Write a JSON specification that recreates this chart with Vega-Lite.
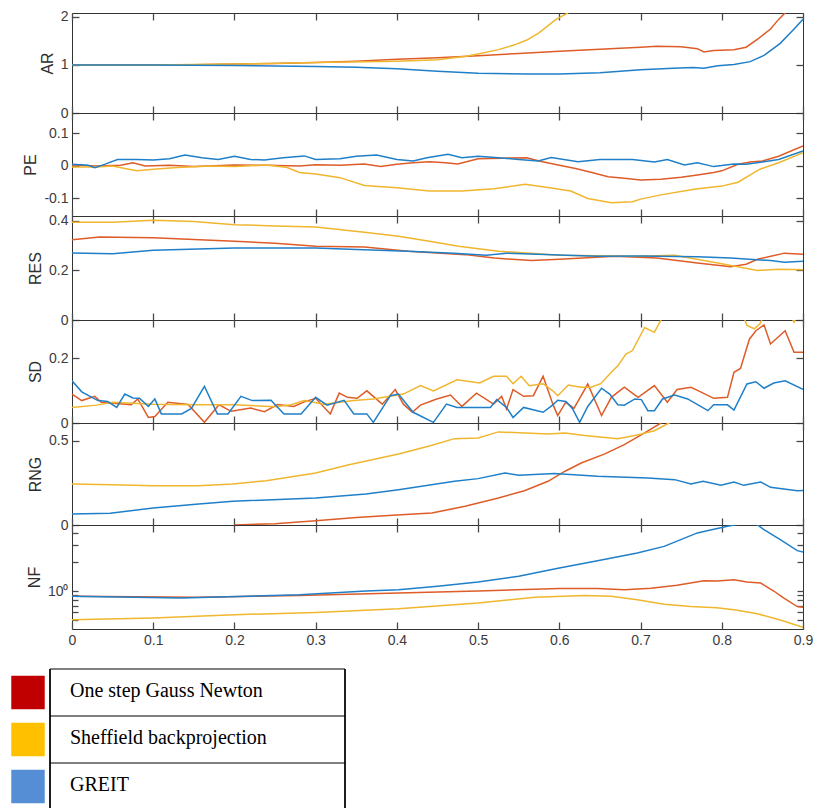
{
"$schema": "https://vega.github.io/schema/vega-lite/v6.json",
"padding": {"left": 11, "top": 9, "right": 0, "bottom": 0},
"spacing": 20,
"resolve": {"scale": {"color": "independent"}},
"datasets": {
"leg": [{"name": "One step Gauss Newton"}, {"name": "Sheffield backprojection"}, {"name": "GREIT"}],
"main": [
{"p":"AR","s":"GN","x":0,"v":1},{"p":"AR","s":"GN","x":0.1,"v":1},{"p":"AR","s":"GN","x":0.15,"v":1.005},{"p":"AR","s":"GN","x":0.2,"v":1.02},{"p":"AR","s":"GN","x":0.25,"v":1.03},{"p":"AR","s":"GN","x":0.3,"v":1.05},{"p":"AR","s":"GN","x":0.35,"v":1.08},{"p":"AR","s":"GN","x":0.4,"v":1.12},{"p":"AR","s":"GN","x":0.45,"v":1.15},{"p":"AR","s":"GN","x":0.5,"v":1.19},{"p":"AR","s":"GN","x":0.55,"v":1.24},{"p":"AR","s":"GN","x":0.6,"v":1.285},{"p":"AR","s":"GN","x":0.65,"v":1.33},{"p":"AR","s":"GN","x":0.7,"v":1.37},{"p":"AR","s":"GN","x":0.72,"v":1.39},{"p":"AR","s":"GN","x":0.75,"v":1.38},{"p":"AR","s":"GN","x":0.77,"v":1.34},{"p":"AR","s":"GN","x":0.778,"v":1.27},{"p":"AR","s":"GN","x":0.79,"v":1.3},{"p":"AR","s":"GN","x":0.815,"v":1.32},{"p":"AR","s":"GN","x":0.83,"v":1.37},{"p":"AR","s":"GN","x":0.845,"v":1.55},{"p":"AR","s":"GN","x":0.86,"v":1.75},{"p":"AR","s":"GN","x":0.87,"v":1.95},{"p":"AR","s":"GN","x":0.88,"v":2.12},{"p":"AR","s":"GN","x":0.89,"v":2.3},
{"p":"AR","s":"SBP","x":0,"v":1},{"p":"AR","s":"SBP","x":0.1,"v":1},{"p":"AR","s":"SBP","x":0.2,"v":1.02},{"p":"AR","s":"SBP","x":0.3,"v":1.05},{"p":"AR","s":"SBP","x":0.4,"v":1.08},{"p":"AR","s":"SBP","x":0.45,"v":1.11},{"p":"AR","s":"SBP","x":0.485,"v":1.18},{"p":"AR","s":"SBP","x":0.5,"v":1.23},{"p":"AR","s":"SBP","x":0.525,"v":1.32},{"p":"AR","s":"SBP","x":0.545,"v":1.42},{"p":"AR","s":"SBP","x":0.56,"v":1.52},{"p":"AR","s":"SBP","x":0.575,"v":1.67},{"p":"AR","s":"SBP","x":0.595,"v":1.94},{"p":"AR","s":"SBP","x":0.61,"v":2.08},{"p":"AR","s":"SBP","x":0.62,"v":2.25},
{"p":"AR","s":"GREIT","x":0,"v":1},{"p":"AR","s":"GREIT","x":0.1,"v":1},{"p":"AR","s":"GREIT","x":0.2,"v":0.99},{"p":"AR","s":"GREIT","x":0.3,"v":0.97},{"p":"AR","s":"GREIT","x":0.35,"v":0.955},{"p":"AR","s":"GREIT","x":0.4,"v":0.92},{"p":"AR","s":"GREIT","x":0.45,"v":0.87},{"p":"AR","s":"GREIT","x":0.5,"v":0.83},{"p":"AR","s":"GREIT","x":0.56,"v":0.81},{"p":"AR","s":"GREIT","x":0.6,"v":0.81},{"p":"AR","s":"GREIT","x":0.65,"v":0.84},{"p":"AR","s":"GREIT","x":0.7,"v":0.9},{"p":"AR","s":"GREIT","x":0.74,"v":0.93},{"p":"AR","s":"GREIT","x":0.765,"v":0.95},{"p":"AR","s":"GREIT","x":0.778,"v":0.93},{"p":"AR","s":"GREIT","x":0.795,"v":0.985},{"p":"AR","s":"GREIT","x":0.815,"v":1.01},{"p":"AR","s":"GREIT","x":0.835,"v":1.07},{"p":"AR","s":"GREIT","x":0.852,"v":1.2},{"p":"AR","s":"GREIT","x":0.872,"v":1.45},{"p":"AR","s":"GREIT","x":0.889,"v":1.75},{"p":"AR","s":"GREIT","x":0.9,"v":1.95},

{"p":"PE","s":"GN","x":0,"v":0.003},{"p":"PE","s":"GN","x":0.03,"v":0},{"p":"PE","s":"GN","x":0.06,"v":0.002},{"p":"PE","s":"GN","x":0.075,"v":0.01},{"p":"PE","s":"GN","x":0.09,"v":0},{"p":"PE","s":"GN","x":0.12,"v":0.002},{"p":"PE","s":"GN","x":0.15,"v":-0.002},{"p":"PE","s":"GN","x":0.2,"v":0.003},{"p":"PE","s":"GN","x":0.24,"v":0.002},{"p":"PE","s":"GN","x":0.28,"v":0},{"p":"PE","s":"GN","x":0.3,"v":0.004},{"p":"PE","s":"GN","x":0.33,"v":0.002},{"p":"PE","s":"GN","x":0.36,"v":0.006},{"p":"PE","s":"GN","x":0.38,"v":-0.002},{"p":"PE","s":"GN","x":0.4,"v":0.005},{"p":"PE","s":"GN","x":0.42,"v":0.01},{"p":"PE","s":"GN","x":0.44,"v":0.013},{"p":"PE","s":"GN","x":0.46,"v":0.01},{"p":"PE","s":"GN","x":0.475,"v":0.006},{"p":"PE","s":"GN","x":0.5,"v":0.022},{"p":"PE","s":"GN","x":0.53,"v":0.024},{"p":"PE","s":"GN","x":0.56,"v":0.025},{"p":"PE","s":"GN","x":0.575,"v":0.015},{"p":"PE","s":"GN","x":0.6,"v":0.002},{"p":"PE","s":"GN","x":0.62,"v":-0.008},{"p":"PE","s":"GN","x":0.64,"v":-0.02},{"p":"PE","s":"GN","x":0.66,"v":-0.033},{"p":"PE","s":"GN","x":0.68,"v":-0.038},{"p":"PE","s":"GN","x":0.7,"v":-0.043},{"p":"PE","s":"GN","x":0.725,"v":-0.041},{"p":"PE","s":"GN","x":0.75,"v":-0.035},{"p":"PE","s":"GN","x":0.77,"v":-0.028},{"p":"PE","s":"GN","x":0.79,"v":-0.02},{"p":"PE","s":"GN","x":0.8,"v":-0.015},{"p":"PE","s":"GN","x":0.82,"v":0.005},{"p":"PE","s":"GN","x":0.835,"v":0.012},{"p":"PE","s":"GN","x":0.85,"v":0.015},{"p":"PE","s":"GN","x":0.87,"v":0.03},{"p":"PE","s":"GN","x":0.9,"v":0.062},
{"p":"PE","s":"SBP","x":0,"v":-0.003},{"p":"PE","s":"SBP","x":0.03,"v":-0.003},{"p":"PE","s":"SBP","x":0.05,"v":0},{"p":"PE","s":"SBP","x":0.07,"v":-0.01},{"p":"PE","s":"SBP","x":0.08,"v":-0.015},{"p":"PE","s":"SBP","x":0.1,"v":-0.01},{"p":"PE","s":"SBP","x":0.13,"v":-0.005},{"p":"PE","s":"SBP","x":0.17,"v":0},{"p":"PE","s":"SBP","x":0.2,"v":-0.002},{"p":"PE","s":"SBP","x":0.24,"v":0.003},{"p":"PE","s":"SBP","x":0.265,"v":-0.005},{"p":"PE","s":"SBP","x":0.28,"v":-0.02},{"p":"PE","s":"SBP","x":0.3,"v":-0.025},{"p":"PE","s":"SBP","x":0.33,"v":-0.036},{"p":"PE","s":"SBP","x":0.36,"v":-0.06},{"p":"PE","s":"SBP","x":0.4,"v":-0.067},{"p":"PE","s":"SBP","x":0.44,"v":-0.077},{"p":"PE","s":"SBP","x":0.48,"v":-0.077},{"p":"PE","s":"SBP","x":0.52,"v":-0.07},{"p":"PE","s":"SBP","x":0.558,"v":-0.056},{"p":"PE","s":"SBP","x":0.59,"v":-0.068},{"p":"PE","s":"SBP","x":0.614,"v":-0.077},{"p":"PE","s":"SBP","x":0.635,"v":-0.1},{"p":"PE","s":"SBP","x":0.664,"v":-0.113},{"p":"PE","s":"SBP","x":0.69,"v":-0.11},{"p":"PE","s":"SBP","x":0.7,"v":-0.102},{"p":"PE","s":"SBP","x":0.725,"v":-0.089},{"p":"PE","s":"SBP","x":0.766,"v":-0.072},{"p":"PE","s":"SBP","x":0.8,"v":-0.062},{"p":"PE","s":"SBP","x":0.82,"v":-0.05},{"p":"PE","s":"SBP","x":0.847,"v":-0.01},{"p":"PE","s":"SBP","x":0.87,"v":0.01},{"p":"PE","s":"SBP","x":0.9,"v":0.041},
{"p":"PE","s":"GREIT","x":0,"v":0.005},{"p":"PE","s":"GREIT","x":0.02,"v":0.002},{"p":"PE","s":"GREIT","x":0.028,"v":-0.005},{"p":"PE","s":"GREIT","x":0.04,"v":0.005},{"p":"PE","s":"GREIT","x":0.056,"v":0.02},{"p":"PE","s":"GREIT","x":0.08,"v":0.02},{"p":"PE","s":"GREIT","x":0.1,"v":0.018},{"p":"PE","s":"GREIT","x":0.12,"v":0.022},{"p":"PE","s":"GREIT","x":0.139,"v":0.034},{"p":"PE","s":"GREIT","x":0.16,"v":0.025},{"p":"PE","s":"GREIT","x":0.18,"v":0.02},{"p":"PE","s":"GREIT","x":0.2,"v":0.03},{"p":"PE","s":"GREIT","x":0.22,"v":0.02},{"p":"PE","s":"GREIT","x":0.237,"v":0.018},{"p":"PE","s":"GREIT","x":0.26,"v":0.025},{"p":"PE","s":"GREIT","x":0.286,"v":0.031},{"p":"PE","s":"GREIT","x":0.3,"v":0.02},{"p":"PE","s":"GREIT","x":0.33,"v":0.022},{"p":"PE","s":"GREIT","x":0.35,"v":0.03},{"p":"PE","s":"GREIT","x":0.375,"v":0.034},{"p":"PE","s":"GREIT","x":0.4,"v":0.02},{"p":"PE","s":"GREIT","x":0.42,"v":0.015},{"p":"PE","s":"GREIT","x":0.437,"v":0.025},{"p":"PE","s":"GREIT","x":0.463,"v":0.036},{"p":"PE","s":"GREIT","x":0.48,"v":0.025},{"p":"PE","s":"GREIT","x":0.5,"v":0.03},{"p":"PE","s":"GREIT","x":0.521,"v":0.026},{"p":"PE","s":"GREIT","x":0.55,"v":0.02},{"p":"PE","s":"GREIT","x":0.574,"v":0.015},{"p":"PE","s":"GREIT","x":0.59,"v":0.026},{"p":"PE","s":"GREIT","x":0.623,"v":0.013},{"p":"PE","s":"GREIT","x":0.65,"v":0.02},{"p":"PE","s":"GREIT","x":0.69,"v":0.02},{"p":"PE","s":"GREIT","x":0.717,"v":0.012},{"p":"PE","s":"GREIT","x":0.733,"v":0.02},{"p":"PE","s":"GREIT","x":0.754,"v":0.003},{"p":"PE","s":"GREIT","x":0.77,"v":0.01},{"p":"PE","s":"GREIT","x":0.79,"v":-0.002},{"p":"PE","s":"GREIT","x":0.815,"v":0.006},{"p":"PE","s":"GREIT","x":0.83,"v":0.005},{"p":"PE","s":"GREIT","x":0.85,"v":0.012},{"p":"PE","s":"GREIT","x":0.87,"v":0.02},{"p":"PE","s":"GREIT","x":0.9,"v":0.046},

{"p":"RES","s":"GN","x":0,"v":0.324},{"p":"RES","s":"GN","x":0.034,"v":0.335},{"p":"RES","s":"GN","x":0.1,"v":0.332},{"p":"RES","s":"GN","x":0.15,"v":0.325},{"p":"RES","s":"GN","x":0.2,"v":0.318},{"p":"RES","s":"GN","x":0.25,"v":0.31},{"p":"RES","s":"GN","x":0.3,"v":0.298},{"p":"RES","s":"GN","x":0.36,"v":0.295},{"p":"RES","s":"GN","x":0.414,"v":0.278},{"p":"RES","s":"GN","x":0.484,"v":0.264},{"p":"RES","s":"GN","x":0.52,"v":0.25},{"p":"RES","s":"GN","x":0.566,"v":0.24},{"p":"RES","s":"GN","x":0.6,"v":0.245},{"p":"RES","s":"GN","x":0.668,"v":0.257},{"p":"RES","s":"GN","x":0.72,"v":0.25},{"p":"RES","s":"GN","x":0.77,"v":0.23},{"p":"RES","s":"GN","x":0.811,"v":0.215},{"p":"RES","s":"GN","x":0.83,"v":0.225},{"p":"RES","s":"GN","x":0.844,"v":0.245},{"p":"RES","s":"GN","x":0.877,"v":0.27},{"p":"RES","s":"GN","x":0.9,"v":0.266},
{"p":"RES","s":"SBP","x":0,"v":0.395},{"p":"RES","s":"SBP","x":0.05,"v":0.395},{"p":"RES","s":"SBP","x":0.1,"v":0.403},{"p":"RES","s":"SBP","x":0.15,"v":0.398},{"p":"RES","s":"SBP","x":0.2,"v":0.385},{"p":"RES","s":"SBP","x":0.25,"v":0.38},{"p":"RES","s":"SBP","x":0.3,"v":0.376},{"p":"RES","s":"SBP","x":0.36,"v":0.354},{"p":"RES","s":"SBP","x":0.402,"v":0.338},{"p":"RES","s":"SBP","x":0.44,"v":0.318},{"p":"RES","s":"SBP","x":0.476,"v":0.298},{"p":"RES","s":"SBP","x":0.525,"v":0.278},{"p":"RES","s":"SBP","x":0.6,"v":0.261},{"p":"RES","s":"SBP","x":0.696,"v":0.257},{"p":"RES","s":"SBP","x":0.742,"v":0.261},{"p":"RES","s":"SBP","x":0.795,"v":0.23},{"p":"RES","s":"SBP","x":0.844,"v":0.2},{"p":"RES","s":"SBP","x":0.87,"v":0.205},{"p":"RES","s":"SBP","x":0.9,"v":0.203},
{"p":"RES","s":"GREIT","x":0,"v":0.271},{"p":"RES","s":"GREIT","x":0.05,"v":0.268},{"p":"RES","s":"GREIT","x":0.1,"v":0.282},{"p":"RES","s":"GREIT","x":0.2,"v":0.291},{"p":"RES","s":"GREIT","x":0.3,"v":0.291},{"p":"RES","s":"GREIT","x":0.35,"v":0.285},{"p":"RES","s":"GREIT","x":0.414,"v":0.278},{"p":"RES","s":"GREIT","x":0.47,"v":0.27},{"p":"RES","s":"GREIT","x":0.51,"v":0.262},{"p":"RES","s":"GREIT","x":0.535,"v":0.27},{"p":"RES","s":"GREIT","x":0.6,"v":0.262},{"p":"RES","s":"GREIT","x":0.647,"v":0.257},{"p":"RES","s":"GREIT","x":0.7,"v":0.258},{"p":"RES","s":"GREIT","x":0.77,"v":0.255},{"p":"RES","s":"GREIT","x":0.811,"v":0.25},{"p":"RES","s":"GREIT","x":0.86,"v":0.24},{"p":"RES","s":"GREIT","x":0.877,"v":0.233},{"p":"RES","s":"GREIT","x":0.9,"v":0.237},

{"p":"SD","s":"GN","x":0,"v":0.089},{"p":"SD","s":"GN","x":0.012,"v":0.069},{"p":"SD","s":"GN","x":0.028,"v":0.082},{"p":"SD","s":"GN","x":0.036,"v":0.064},{"p":"SD","s":"GN","x":0.073,"v":0.056},{"p":"SD","s":"GN","x":0.081,"v":0.074},{"p":"SD","s":"GN","x":0.094,"v":0.017},{"p":"SD","s":"GN","x":0.102,"v":0.02},{"p":"SD","s":"GN","x":0.118,"v":0.064},{"p":"SD","s":"GN","x":0.143,"v":0.057},{"p":"SD","s":"GN","x":0.163,"v":0.002},{"p":"SD","s":"GN","x":0.181,"v":0.056},{"p":"SD","s":"GN","x":0.196,"v":0.036},{"p":"SD","s":"GN","x":0.22,"v":0.046},{"p":"SD","s":"GN","x":0.237,"v":0.035},{"p":"SD","s":"GN","x":0.253,"v":0.057},{"p":"SD","s":"GN","x":0.273,"v":0.051},{"p":"SD","s":"GN","x":0.286,"v":0.065},{"p":"SD","s":"GN","x":0.3,"v":0.076},{"p":"SD","s":"GN","x":0.318,"v":0.028},{"p":"SD","s":"GN","x":0.329,"v":0.092},{"p":"SD","s":"GN","x":0.339,"v":0.079},{"p":"SD","s":"GN","x":0.351,"v":0.076},{"p":"SD","s":"GN","x":0.363,"v":0.099},{"p":"SD","s":"GN","x":0.382,"v":0.058},{"p":"SD","s":"GN","x":0.398,"v":0.103},{"p":"SD","s":"GN","x":0.408,"v":0.058},{"p":"SD","s":"GN","x":0.419,"v":0.033},{"p":"SD","s":"GN","x":0.429,"v":0.055},{"p":"SD","s":"GN","x":0.449,"v":0.074},{"p":"SD","s":"GN","x":0.466,"v":0.086},{"p":"SD","s":"GN","x":0.48,"v":0.051},{"p":"SD","s":"GN","x":0.498,"v":0.092},{"p":"SD","s":"GN","x":0.519,"v":0.058},{"p":"SD","s":"GN","x":0.529,"v":0.082},{"p":"SD","s":"GN","x":0.535,"v":0.043},{"p":"SD","s":"GN","x":0.543,"v":0.103},{"p":"SD","s":"GN","x":0.556,"v":0.082},{"p":"SD","s":"GN","x":0.568,"v":0.084},{"p":"SD","s":"GN","x":0.58,"v":0.144},{"p":"SD","s":"GN","x":0.592,"v":0.058},{"p":"SD","s":"GN","x":0.598,"v":0.023},{"p":"SD","s":"GN","x":0.608,"v":0.064},{"p":"SD","s":"GN","x":0.618,"v":0.045},{"p":"SD","s":"GN","x":0.635,"v":0.12},{"p":"SD","s":"GN","x":0.652,"v":0.023},{"p":"SD","s":"GN","x":0.664,"v":0.079},{"p":"SD","s":"GN","x":0.68,"v":0.11},{"p":"SD","s":"GN","x":0.697,"v":0.079},{"p":"SD","s":"GN","x":0.717,"v":0.115},{"p":"SD","s":"GN","x":0.733,"v":0.064},{"p":"SD","s":"GN","x":0.745,"v":0.103},{"p":"SD","s":"GN","x":0.762,"v":0.11},{"p":"SD","s":"GN","x":0.774,"v":0.096},{"p":"SD","s":"GN","x":0.79,"v":0.076},{"p":"SD","s":"GN","x":0.807,"v":0.079},{"p":"SD","s":"GN","x":0.815,"v":0.156},{"p":"SD","s":"GN","x":0.823,"v":0.168},{"p":"SD","s":"GN","x":0.834,"v":0.258},{"p":"SD","s":"GN","x":0.842,"v":0.284},{"p":"SD","s":"GN","x":0.852,"v":0.302},{"p":"SD","s":"GN","x":0.86,"v":0.243},{"p":"SD","s":"GN","x":0.878,"v":0.284},{"p":"SD","s":"GN","x":0.889,"v":0.218},{"p":"SD","s":"GN","x":0.9,"v":0.218},
{"p":"SD","s":"SBP","x":0,"v":0.048},{"p":"SD","s":"SBP","x":0.03,"v":0.055},{"p":"SD","s":"SBP","x":0.05,"v":0.064},{"p":"SD","s":"SBP","x":0.1,"v":0.058},{"p":"SD","s":"SBP","x":0.15,"v":0.056},{"p":"SD","s":"SBP","x":0.2,"v":0.056},{"p":"SD","s":"SBP","x":0.25,"v":0.05},{"p":"SD","s":"SBP","x":0.27,"v":0.056},{"p":"SD","s":"SBP","x":0.286,"v":0.069},{"p":"SD","s":"SBP","x":0.31,"v":0.058},{"p":"SD","s":"SBP","x":0.347,"v":0.069},{"p":"SD","s":"SBP","x":0.371,"v":0.074},{"p":"SD","s":"SBP","x":0.408,"v":0.089},{"p":"SD","s":"SBP","x":0.429,"v":0.115},{"p":"SD","s":"SBP","x":0.445,"v":0.099},{"p":"SD","s":"SBP","x":0.474,"v":0.133},{"p":"SD","s":"SBP","x":0.502,"v":0.123},{"p":"SD","s":"SBP","x":0.519,"v":0.144},{"p":"SD","s":"SBP","x":0.535,"v":0.144},{"p":"SD","s":"SBP","x":0.543,"v":0.121},{"p":"SD","s":"SBP","x":0.553,"v":0.144},{"p":"SD","s":"SBP","x":0.563,"v":0.115},{"p":"SD","s":"SBP","x":0.58,"v":0.121},{"p":"SD","s":"SBP","x":0.592,"v":0.099},{"p":"SD","s":"SBP","x":0.598,"v":0.084},{"p":"SD","s":"SBP","x":0.611,"v":0.117},{"p":"SD","s":"SBP","x":0.627,"v":0.11},{"p":"SD","s":"SBP","x":0.639,"v":0.11},{"p":"SD","s":"SBP","x":0.651,"v":0.121},{"p":"SD","s":"SBP","x":0.664,"v":0.156},{"p":"SD","s":"SBP","x":0.672,"v":0.176},{"p":"SD","s":"SBP","x":0.682,"v":0.212},{"p":"SD","s":"SBP","x":0.69,"v":0.223},{"p":"SD","s":"SBP","x":0.705,"v":0.294},{"p":"SD","s":"SBP","x":0.717,"v":0.279},{"p":"SD","s":"SBP","x":0.73,"v":0.34},{"p":"SD","s":"SBP","x":0.76,"v":0.42},{"p":"SD","s":"SBP","x":0.8,"v":0.45},{"p":"SD","s":"SBP","x":0.822,"v":0.36},{"p":"SD","s":"SBP","x":0.831,"v":0.3},{"p":"SD","s":"SBP","x":0.84,"v":0.29},{"p":"SD","s":"SBP","x":0.847,"v":0.305},{"p":"SD","s":"SBP","x":0.857,"v":0.36},{"p":"SD","s":"SBP","x":0.875,"v":0.38},{"p":"SD","s":"SBP","x":0.889,"v":0.31},{"p":"SD","s":"SBP","x":0.9,"v":0.38},
{"p":"SD","s":"GREIT","x":0,"v":0.13},{"p":"SD","s":"GREIT","x":0.012,"v":0.096},{"p":"SD","s":"GREIT","x":0.032,"v":0.069},{"p":"SD","s":"GREIT","x":0.044,"v":0.066},{"p":"SD","s":"GREIT","x":0.055,"v":0.048},{"p":"SD","s":"GREIT","x":0.065,"v":0.089},{"p":"SD","s":"GREIT","x":0.075,"v":0.077},{"p":"SD","s":"GREIT","x":0.083,"v":0.076},{"p":"SD","s":"GREIT","x":0.094,"v":0.051},{"p":"SD","s":"GREIT","x":0.102,"v":0.074},{"p":"SD","s":"GREIT","x":0.11,"v":0.028},{"p":"SD","s":"GREIT","x":0.135,"v":0.028},{"p":"SD","s":"GREIT","x":0.147,"v":0.045},{"p":"SD","s":"GREIT","x":0.163,"v":0.113},{"p":"SD","s":"GREIT","x":0.179,"v":0.028},{"p":"SD","s":"GREIT","x":0.192,"v":0.028},{"p":"SD","s":"GREIT","x":0.208,"v":0.082},{"p":"SD","s":"GREIT","x":0.222,"v":0.069},{"p":"SD","s":"GREIT","x":0.245,"v":0.07},{"p":"SD","s":"GREIT","x":0.261,"v":0.028},{"p":"SD","s":"GREIT","x":0.282,"v":0.028},{"p":"SD","s":"GREIT","x":0.3,"v":0.079},{"p":"SD","s":"GREIT","x":0.314,"v":0.055},{"p":"SD","s":"GREIT","x":0.335,"v":0.07},{"p":"SD","s":"GREIT","x":0.347,"v":0.028},{"p":"SD","s":"GREIT","x":0.363,"v":0.028},{"p":"SD","s":"GREIT","x":0.371,"v":0.002},{"p":"SD","s":"GREIT","x":0.392,"v":0.084},{"p":"SD","s":"GREIT","x":0.402,"v":0.089},{"p":"SD","s":"GREIT","x":0.412,"v":0.058},{"p":"SD","s":"GREIT","x":0.42,"v":0.033},{"p":"SD","s":"GREIT","x":0.445,"v":0.002},{"p":"SD","s":"GREIT","x":0.461,"v":0.058},{"p":"SD","s":"GREIT","x":0.474,"v":0.048},{"p":"SD","s":"GREIT","x":0.515,"v":0.048},{"p":"SD","s":"GREIT","x":0.523,"v":0.072},{"p":"SD","s":"GREIT","x":0.535,"v":0.048},{"p":"SD","s":"GREIT","x":0.543,"v":0.017},{"p":"SD","s":"GREIT","x":0.556,"v":0.048},{"p":"SD","s":"GREIT","x":0.58,"v":0.033},{"p":"SD","s":"GREIT","x":0.592,"v":0.056},{"p":"SD","s":"GREIT","x":0.598,"v":0.07},{"p":"SD","s":"GREIT","x":0.608,"v":0.066},{"p":"SD","s":"GREIT","x":0.616,"v":0.045},{"p":"SD","s":"GREIT","x":0.625,"v":0.002},{"p":"SD","s":"GREIT","x":0.635,"v":0.051},{"p":"SD","s":"GREIT","x":0.652,"v":0.107},{"p":"SD","s":"GREIT","x":0.662,"v":0.089},{"p":"SD","s":"GREIT","x":0.672,"v":0.056},{"p":"SD","s":"GREIT","x":0.68,"v":0.055},{"p":"SD","s":"GREIT","x":0.693,"v":0.074},{"p":"SD","s":"GREIT","x":0.701,"v":0.072},{"p":"SD","s":"GREIT","x":0.709,"v":0.038},{"p":"SD","s":"GREIT","x":0.717,"v":0.038},{"p":"SD","s":"GREIT","x":0.727,"v":0.074},{"p":"SD","s":"GREIT","x":0.742,"v":0.086},{"p":"SD","s":"GREIT","x":0.758,"v":0.074},{"p":"SD","s":"GREIT","x":0.783,"v":0.038},{"p":"SD","s":"GREIT","x":0.79,"v":0.056},{"p":"SD","s":"GREIT","x":0.807,"v":0.056},{"p":"SD","s":"GREIT","x":0.815,"v":0.04},{"p":"SD","s":"GREIT","x":0.831,"v":0.12},{"p":"SD","s":"GREIT","x":0.842,"v":0.127},{"p":"SD","s":"GREIT","x":0.852,"v":0.107},{"p":"SD","s":"GREIT","x":0.864,"v":0.123},{"p":"SD","s":"GREIT","x":0.878,"v":0.13},{"p":"SD","s":"GREIT","x":0.9,"v":0.104},

{"p":"RNG","s":"GN","x":0.2,"v":0},{"p":"RNG","s":"GN","x":0.25,"v":0.008},{"p":"RNG","s":"GN","x":0.3,"v":0.026},{"p":"RNG","s":"GN","x":0.35,"v":0.045},{"p":"RNG","s":"GN","x":0.4,"v":0.06},{"p":"RNG","s":"GN","x":0.443,"v":0.072},{"p":"RNG","s":"GN","x":0.484,"v":0.111},{"p":"RNG","s":"GN","x":0.525,"v":0.161},{"p":"RNG","s":"GN","x":0.557,"v":0.204},{"p":"RNG","s":"GN","x":0.586,"v":0.26},{"p":"RNG","s":"GN","x":0.607,"v":0.32},{"p":"RNG","s":"GN","x":0.627,"v":0.369},{"p":"RNG","s":"GN","x":0.656,"v":0.423},{"p":"RNG","s":"GN","x":0.68,"v":0.478},{"p":"RNG","s":"GN","x":0.705,"v":0.548},{"p":"RNG","s":"GN","x":0.725,"v":0.607},{"p":"RNG","s":"GN","x":0.74,"v":0.65},
{"p":"RNG","s":"SBP","x":0,"v":0.244},{"p":"RNG","s":"SBP","x":0.05,"v":0.24},{"p":"RNG","s":"SBP","x":0.1,"v":0.234},{"p":"RNG","s":"SBP","x":0.156,"v":0.234},{"p":"RNG","s":"SBP","x":0.198,"v":0.244},{"p":"RNG","s":"SBP","x":0.239,"v":0.264},{"p":"RNG","s":"SBP","x":0.3,"v":0.31},{"p":"RNG","s":"SBP","x":0.341,"v":0.359},{"p":"RNG","s":"SBP","x":0.402,"v":0.423},{"p":"RNG","s":"SBP","x":0.44,"v":0.47},{"p":"RNG","s":"SBP","x":0.471,"v":0.514},{"p":"RNG","s":"SBP","x":0.5,"v":0.518},{"p":"RNG","s":"SBP","x":0.525,"v":0.554},{"p":"RNG","s":"SBP","x":0.586,"v":0.542},{"p":"RNG","s":"SBP","x":0.607,"v":0.548},{"p":"RNG","s":"SBP","x":0.631,"v":0.532},{"p":"RNG","s":"SBP","x":0.672,"v":0.514},{"p":"RNG","s":"SBP","x":0.696,"v":0.536},{"p":"RNG","s":"SBP","x":0.717,"v":0.561},{"p":"RNG","s":"SBP","x":0.735,"v":0.607},{"p":"RNG","s":"SBP","x":0.75,"v":0.64},
{"p":"RNG","s":"GREIT","x":0,"v":0.065},{"p":"RNG","s":"GREIT","x":0.047,"v":0.07},{"p":"RNG","s":"GREIT","x":0.1,"v":0.101},{"p":"RNG","s":"GREIT","x":0.156,"v":0.125},{"p":"RNG","s":"GREIT","x":0.198,"v":0.141},{"p":"RNG","s":"GREIT","x":0.3,"v":0.161},{"p":"RNG","s":"GREIT","x":0.362,"v":0.185},{"p":"RNG","s":"GREIT","x":0.402,"v":0.21},{"p":"RNG","s":"GREIT","x":0.471,"v":0.26},{"p":"RNG","s":"GREIT","x":0.5,"v":0.276},{"p":"RNG","s":"GREIT","x":0.533,"v":0.31},{"p":"RNG","s":"GREIT","x":0.55,"v":0.296},{"p":"RNG","s":"GREIT","x":0.594,"v":0.306},{"p":"RNG","s":"GREIT","x":0.647,"v":0.29},{"p":"RNG","s":"GREIT","x":0.709,"v":0.28},{"p":"RNG","s":"GREIT","x":0.742,"v":0.27},{"p":"RNG","s":"GREIT","x":0.762,"v":0.244},{"p":"RNG","s":"GREIT","x":0.777,"v":0.26},{"p":"RNG","s":"GREIT","x":0.799,"v":0.236},{"p":"RNG","s":"GREIT","x":0.815,"v":0.256},{"p":"RNG","s":"GREIT","x":0.827,"v":0.236},{"p":"RNG","s":"GREIT","x":0.848,"v":0.256},{"p":"RNG","s":"GREIT","x":0.86,"v":0.224},{"p":"RNG","s":"GREIT","x":0.893,"v":0.204},{"p":"RNG","s":"GREIT","x":0.9,"v":0.205},

{"p":"NF","s":"GN","x":0,"v":0.88},{"p":"NF","s":"GN","x":0.156,"v":0.86},{"p":"NF","s":"GN","x":0.28,"v":0.9},{"p":"NF","s":"GN","x":0.402,"v":0.954},{"p":"NF","s":"GN","x":0.5,"v":1.0},{"p":"NF","s":"GN","x":0.6,"v":1.06},{"p":"NF","s":"GN","x":0.647,"v":1.06},{"p":"NF","s":"GN","x":0.68,"v":1.03},{"p":"NF","s":"GN","x":0.713,"v":1.07},{"p":"NF","s":"GN","x":0.745,"v":1.15},{"p":"NF","s":"GN","x":0.778,"v":1.28},{"p":"NF","s":"GN","x":0.794,"v":1.27},{"p":"NF","s":"GN","x":0.815,"v":1.31},{"p":"NF","s":"GN","x":0.831,"v":1.24},{"p":"NF","s":"GN","x":0.848,"v":1.21},{"p":"NF","s":"GN","x":0.864,"v":1.0},{"p":"NF","s":"GN","x":0.876,"v":0.85},{"p":"NF","s":"GN","x":0.893,"v":0.69},{"p":"NF","s":"GN","x":0.9,"v":0.68},
{"p":"NF","s":"SBP","x":0,"v":0.504},{"p":"NF","s":"SBP","x":0.1,"v":0.525},{"p":"NF","s":"SBP","x":0.2,"v":0.568},{"p":"NF","s":"SBP","x":0.3,"v":0.6},{"p":"NF","s":"SBP","x":0.402,"v":0.656},{"p":"NF","s":"SBP","x":0.5,"v":0.75},{"p":"NF","s":"SBP","x":0.57,"v":0.86},{"p":"NF","s":"SBP","x":0.631,"v":0.9},{"p":"NF","s":"SBP","x":0.664,"v":0.88},{"p":"NF","s":"SBP","x":0.696,"v":0.81},{"p":"NF","s":"SBP","x":0.729,"v":0.73},{"p":"NF","s":"SBP","x":0.762,"v":0.69},{"p":"NF","s":"SBP","x":0.794,"v":0.67},{"p":"NF","s":"SBP","x":0.815,"v":0.64},{"p":"NF","s":"SBP","x":0.844,"v":0.58},{"p":"NF","s":"SBP","x":0.872,"v":0.5},{"p":"NF","s":"SBP","x":0.9,"v":0.42},
{"p":"NF","s":"GREIT","x":0,"v":0.881},{"p":"NF","s":"GREIT","x":0.135,"v":0.846},{"p":"NF","s":"GREIT","x":0.28,"v":0.916},{"p":"NF","s":"GREIT","x":0.362,"v":1.0},{"p":"NF","s":"GREIT","x":0.402,"v":1.03},{"p":"NF","s":"GREIT","x":0.45,"v":1.12},{"p":"NF","s":"GREIT","x":0.5,"v":1.24},{"p":"NF","s":"GREIT","x":0.55,"v":1.42},{"p":"NF","s":"GREIT","x":0.6,"v":1.73},{"p":"NF","s":"GREIT","x":0.647,"v":2.06},{"p":"NF","s":"GREIT","x":0.696,"v":2.48},{"p":"NF","s":"GREIT","x":0.729,"v":2.9},{"p":"NF","s":"GREIT","x":0.77,"v":4.0},{"p":"NF","s":"GREIT","x":0.782,"v":4.2},{"p":"NF","s":"GREIT","x":0.807,"v":4.68},{"p":"NF","s":"GREIT","x":0.83,"v":5.1},{"p":"NF","s":"GREIT","x":0.844,"v":4.85},{"p":"NF","s":"GREIT","x":0.852,"v":4.32},{"p":"NF","s":"GREIT","x":0.872,"v":3.4},{"p":"NF","s":"GREIT","x":0.893,"v":2.62},{"p":"NF","s":"GREIT","x":0.9,"v":2.54}
]
},
"vconcat": [
{
"spacing": 0,
"bounds": "flush",
"vconcat": [
{"width": 731, "height": 100, "data": {"name": "main"}, "transform": [{"filter": "datum.p == 'AR'"}],
 "layer": [
  {"mark": {"type": "line", "clip": true, "strokeWidth": 1.5},
   "encoding": {
    "x": {"field": "x", "type": "quantitative", "scale": {"domain": [0, 0.9], "nice": false, "zero": false}, "axis": {"orient": "bottom", "values": [0,0.1,0.2,0.3,0.4,0.5,0.6,0.7,0.8,0.9], "labels": false, "title": null, "minExtent": 0, "maxExtent": 0}},
    "y": {"field": "v", "type": "quantitative", "scale": {"domain": [0, 2.083], "nice": false, "zero": false}, "axis": {"orient": "left", "values": [0,1,2], "format": "~g", "title": "AR"}},
    "color": {"field": "s", "type": "nominal", "scale": {"domain": ["GN","SBP","GREIT"], "range": ["#de5c28","#efb62e","#1f7fc8"]}, "legend": null}}},
  {"mark": {"type": "line", "opacity": 0, "clip": true},
   "encoding": {
    "x": {"field": "x", "type": "quantitative", "axis": {"orient": "top", "values": [0,0.1,0.2,0.3,0.4,0.5,0.6,0.7,0.8,0.9], "labels": false, "title": null, "minExtent": 0, "maxExtent": 0}},
    "y": {"field": "v", "type": "quantitative", "axis": {"orient": "right", "values": [0,1,2], "labels": false, "title": null, "minExtent": 0, "maxExtent": 0}},
    "detail": {"field": "s"}}}
 ],
 "resolve": {"axis": {"x": "independent", "y": "independent"}}
},
{"width": 731, "height": 103, "data": {"name": "main"}, "transform": [{"filter": "datum.p == 'PE'"}],
 "layer": [
  {"mark": {"type": "line", "clip": true, "strokeWidth": 1.5},
   "encoding": {
    "x": {"field": "x", "type": "quantitative", "scale": {"domain": [0, 0.9], "nice": false, "zero": false}, "axis": {"orient": "bottom", "values": [0,0.1,0.2,0.3,0.4,0.5,0.6,0.7,0.8,0.9], "labels": false, "title": null, "minExtent": 0, "maxExtent": 0}},
    "y": {"field": "v", "type": "quantitative", "scale": {"domain": [-0.154, 0.163], "nice": false, "zero": false}, "axis": {"orient": "left", "values": [-0.1,0,0.1], "format": "~g", "labelExpr": "datum.value < 0 ? '-0.1' : datum.label", "title": "PE"}},
    "color": {"field": "s", "type": "nominal", "scale": {"domain": ["GN","SBP","GREIT"], "range": ["#de5c28","#efb62e","#1f7fc8"]}, "legend": null}}},
  {"mark": {"type": "line", "opacity": 0, "clip": true},
   "encoding": {
    "x": {"field": "x", "type": "quantitative", "axis": {"orient": "top", "values": [0,0.1,0.2,0.3,0.4,0.5,0.6,0.7,0.8,0.9], "labels": false, "title": null, "minExtent": 0, "maxExtent": 0}},
    "y": {"field": "v", "type": "quantitative", "axis": {"orient": "right", "values": [-0.1,0,0.1], "labels": false, "title": null, "minExtent": 0, "maxExtent": 0}},
    "detail": {"field": "s"}}}
 ],
 "resolve": {"axis": {"x": "independent", "y": "independent"}}
},
{"width": 731, "height": 104, "data": {"name": "main"}, "transform": [{"filter": "datum.p == 'RES'"}],
 "layer": [
  {"mark": {"type": "line", "clip": true, "strokeWidth": 1.5},
   "encoding": {
    "x": {"field": "x", "type": "quantitative", "scale": {"domain": [0, 0.9], "nice": false, "zero": false}, "axis": {"orient": "bottom", "values": [0,0.1,0.2,0.3,0.4,0.5,0.6,0.7,0.8,0.9], "labels": false, "title": null, "minExtent": 0, "maxExtent": 0}},
    "y": {"field": "v", "type": "quantitative", "scale": {"domain": [0, 0.42], "nice": false, "zero": false}, "axis": {"orient": "left", "values": [0,0.2,0.4], "format": "~g", "title": "RES"}},
    "color": {"field": "s", "type": "nominal", "scale": {"domain": ["GN","SBP","GREIT"], "range": ["#de5c28","#efb62e","#1f7fc8"]}, "legend": null}}},
  {"mark": {"type": "line", "opacity": 0, "clip": true},
   "encoding": {
    "x": {"field": "x", "type": "quantitative", "axis": {"orient": "top", "values": [0,0.1,0.2,0.3,0.4,0.5,0.6,0.7,0.8,0.9], "labels": false, "title": null, "minExtent": 0, "maxExtent": 0}},
    "y": {"field": "v", "type": "quantitative", "axis": {"orient": "right", "values": [0,0.2,0.4], "labels": false, "title": null, "minExtent": 0, "maxExtent": 0}},
    "detail": {"field": "s"}}}
 ],
 "resolve": {"axis": {"x": "independent", "y": "independent"}}
},
{"width": 731, "height": 103, "data": {"name": "main"}, "transform": [{"filter": "datum.p == 'SD'"}],
 "layer": [
  {"mark": {"type": "line", "clip": true, "strokeWidth": 1.5},
   "encoding": {
    "x": {"field": "x", "type": "quantitative", "scale": {"domain": [0, 0.9], "nice": false, "zero": false}, "axis": {"orient": "bottom", "values": [0,0.1,0.2,0.3,0.4,0.5,0.6,0.7,0.8,0.9], "labels": false, "title": null, "minExtent": 0, "maxExtent": 0}},
    "y": {"field": "v", "type": "quantitative", "scale": {"domain": [0, 0.317], "nice": false, "zero": false}, "axis": {"orient": "left", "values": [0,0.2], "format": "~g", "title": "SD"}},
    "color": {"field": "s", "type": "nominal", "scale": {"domain": ["GN","SBP","GREIT"], "range": ["#de5c28","#efb62e","#1f7fc8"]}, "legend": null}}},
  {"mark": {"type": "line", "opacity": 0, "clip": true},
   "encoding": {
    "x": {"field": "x", "type": "quantitative", "axis": {"orient": "top", "values": [0,0.1,0.2,0.3,0.4,0.5,0.6,0.7,0.8,0.9], "labels": false, "title": null, "minExtent": 0, "maxExtent": 0}},
    "y": {"field": "v", "type": "quantitative", "axis": {"orient": "right", "values": [0,0.2], "labels": false, "title": null, "minExtent": 0, "maxExtent": 0}},
    "detail": {"field": "s"}}}
 ],
 "resolve": {"axis": {"x": "independent", "y": "independent"}}
},
{"width": 731, "height": 102, "data": {"name": "main"}, "transform": [{"filter": "datum.p == 'RNG'"}],
 "layer": [
  {"mark": {"type": "line", "clip": true, "strokeWidth": 1.5},
   "encoding": {
    "x": {"field": "x", "type": "quantitative", "scale": {"domain": [0, 0.9], "nice": false, "zero": false}, "axis": {"orient": "bottom", "values": [0,0.1,0.2,0.3,0.4,0.5,0.6,0.7,0.8,0.9], "labels": false, "title": null, "minExtent": 0, "maxExtent": 0}},
    "y": {"field": "v", "type": "quantitative", "scale": {"domain": [0, 0.607], "nice": false, "zero": false}, "axis": {"orient": "left", "values": [0,0.5], "format": "~g", "title": "RNG"}},
    "color": {"field": "s", "type": "nominal", "scale": {"domain": ["GN","SBP","GREIT"], "range": ["#de5c28","#efb62e","#1f7fc8"]}, "legend": null}}},
  {"mark": {"type": "line", "opacity": 0, "clip": true},
   "encoding": {
    "x": {"field": "x", "type": "quantitative", "axis": {"orient": "top", "values": [0,0.1,0.2,0.3,0.4,0.5,0.6,0.7,0.8,0.9], "labels": false, "title": null, "minExtent": 0, "maxExtent": 0}},
    "y": {"field": "v", "type": "quantitative", "axis": {"orient": "right", "values": [0,0.5], "labels": false, "title": null, "minExtent": 0, "maxExtent": 0}},
    "detail": {"field": "s"}}}
 ],
 "resolve": {"axis": {"x": "independent", "y": "independent"}}
},
{"width": 731, "height": 104, "data": {"name": "main"}, "transform": [{"filter": "datum.p == 'NF'"}],
 "layer": [
  {"mark": {"type": "line", "clip": true, "strokeWidth": 1.5},
   "encoding": {
    "x": {"field": "x", "type": "quantitative", "scale": {"domain": [0, 0.9], "nice": false, "zero": false}, "axis": {"orient": "bottom", "values": [0,0.1,0.2,0.3,0.4,0.5,0.6,0.7,0.8,0.9], "format": "~g", "title": null}},
    "y": {"field": "v", "type": "quantitative", "scale": {"type": "log", "domain": [0.404, 4.83], "nice": false}, "axis": {"orient": "left", "values": [0.5,0.6,0.7,0.8,0.9,1,2,3,4], "tickSize": -6, "labelPadding": 10, "labelExpr": "datum.value == 1 ? '10⁰' : ''", "title": "NF"}},
    "color": {"field": "s", "type": "nominal", "scale": {"domain": ["GN","SBP","GREIT"], "range": ["#de5c28","#efb62e","#1f7fc8"]}, "legend": null}}},
  {"mark": {"type": "line", "opacity": 0, "clip": true},
   "encoding": {
    "x": {"field": "x", "type": "quantitative", "axis": {"orient": "top", "values": [0,0.1,0.2,0.3,0.4,0.5,0.6,0.7,0.8,0.9], "labels": false, "title": null, "minExtent": 0, "maxExtent": 0}},
    "y": {"field": "v", "type": "quantitative", "axis": {"orient": "right", "values": [0.5,0.6,0.7,0.8,0.9,1,2,3,4], "tickSize": -6, "labels": false, "title": null, "minExtent": 0, "maxExtent": 0}},
    "detail": {"field": "s"}}}
 ],
 "resolve": {"axis": {"x": "independent", "y": "independent"}}
}
]
},
{
"width": 273, "height": 141,
"data": {"name": "leg"},
"view": {"stroke": null},
"layer": [
 {"mark": {"type": "rule", "color": "#000000", "strokeWidth": 1, "xOffset": -22},
  "encoding": {
   "x": {"datum": 0, "type": "quantitative", "scale": {"domain": [0, 1]}, "axis": null},
   "x2": {"datum": 1},
   "y": {"field": "name", "type": "nominal", "bandPosition": 0, "sort": null, "scale": {"domain": ["One step Gauss Newton", "Sheffield backprojection", "GREIT"], "paddingInner": 0, "paddingOuter": 0}, "axis": null}}},
 {"mark": {"type": "rule", "color": "#000000", "strokeWidth": 1, "xOffset": -22},
  "encoding": {"x": {"datum": 0, "type": "quantitative", "axis": null}}},
 {"mark": {"type": "rule", "color": "#000000", "strokeWidth": 1},
  "encoding": {"x": {"datum": 1, "type": "quantitative", "axis": null}}},
 {"mark": {"type": "square", "size": 1120, "filled": true, "opacity": 1, "xOffset": -44},
  "encoding": {
   "x": {"datum": 0, "type": "quantitative", "axis": null},
   "y": {"field": "name", "type": "nominal", "sort": null, "axis": null},
   "color": {"field": "name", "type": "nominal", "scale": {"domain": ["One step Gauss Newton", "Sheffield backprojection", "GREIT"], "range": ["#C00000", "#FFC000", "#558ED5"]}, "legend": null}}},
 {"mark": {"type": "text", "align": "left", "baseline": "middle", "dx": -2, "dy": -2, "font": "Liberation Serif", "fontSize": 20, "color": "#000000"},
  "encoding": {
   "x": {"datum": 0, "type": "quantitative", "axis": null},
   "y": {"field": "name", "type": "nominal", "sort": null, "axis": null},
   "text": {"field": "name"}}}
]
}
],
"config": {
 "view": {"stroke": "#333333", "strokeWidth": 1},
 "axis": {"domain": false, "grid": false, "tickSize": -7, "tickColor": "#4a4a4a", "tickWidth": 1.3, "labelFont": "Liberation Sans", "labelFontSize": 14, "labelColor": "#3c3c3c", "labelPadding": 11, "labelFlush": false, "labelOverlap": false, "titleFont": "Liberation Sans", "titleFontSize": 16, "titleFontWeight": "normal", "titleColor": "#2e2e2e", "titlePadding": 5}
}
}
